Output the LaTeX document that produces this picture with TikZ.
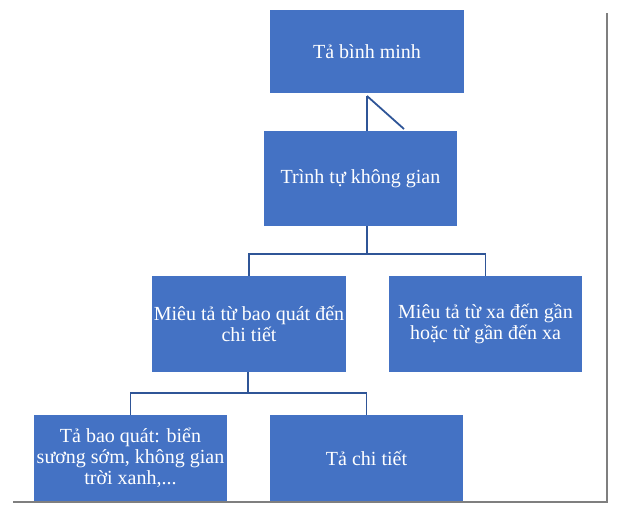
\documentclass[tikz,border=0pt]{standalone}
\usepackage{fontspec}
\setmainfont{Liberation Serif}
\usepackage{xcolor}
\usepackage{tikz}
\definecolor{boxblue}{HTML}{4472C4}
\definecolor{lineblue}{HTML}{2F5597}
\definecolor{framegray}{HTML}{7F7F7F}

\begin{document}
\begin{tikzpicture}[x=1pt,y=-1pt,%
% common options for blocks:
block/.style = {fill=boxblue, text=white, align=center, inner sep=0,
            font=\fontsize{20}{21}\selectfont},
% common options for the connectors:
link/.style = {draw=lineblue, line width=1.8pt}]
\useasboundingbox (0,0) rectangle (618,513);
\node[block,minimum width=194,minimum height=83] (T0) at (367,51.5) {Tả bình minh};
\node[block,minimum width=193,minimum height=95] (T1) at (360.5,178.5) {Trình tự không gian};
\node[block,minimum width=194,minimum height=96] (B1) at (249,324) {Miêu tả từ bao quát đến\\chi tiết};
\node[block,minimum width=193,minimum height=96] (B2) at (485.5,324) {Miêu tả từ xa đến gần\\hoặc từ gần đến xa};
\node[block,minimum width=193,minimum height=86] (C1) at (130.5,458) {Tả bao quát: biển\\sương sớm, không gian\\trời xanh,...};
\node[block,minimum width=193,minimum height=86] (C2) at (366.5,458) {Tả chi tiết};
\coordinate (K0) at (367,96);
\coordinate (K1) at (404,129);
\coordinate (J1) at (367,254);
\coordinate (J2) at (248,393);
\draw[link] (K0) -- (K0 |- T1.north);
\draw[link] (K0) -- (K1);
\draw[link] (J1 |- T1.south) -- (J1);
\draw[link] (B1.north) |- (J1) -| (B2.north);
\draw[link] (J2 |- B1.south) -- (J2);
\draw[link] (C1.north) |- (J2) -| (C2.north);
\draw[framegray, line width=2pt] (13,502) -- (607,502) -- (607,13);
\end{tikzpicture}
\end{document}
